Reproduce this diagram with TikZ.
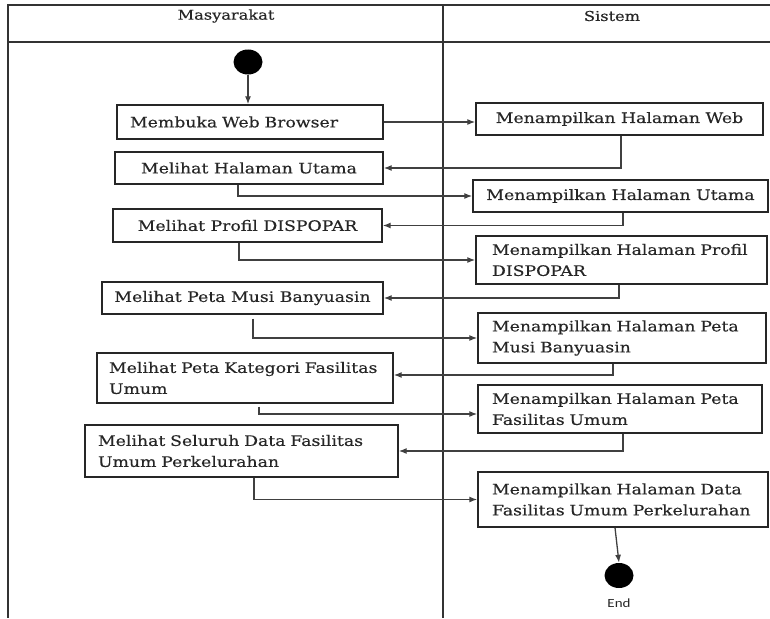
\documentclass[tikz,border=0pt]{standalone}
\usepackage{fontspec}
\setmainfont[FakeStretch=1.2,FakeBold=0.4]{DejaVu Serif}
\newfontfamily\endfont[FakeStretch=1.2]{Carlito}
\usetikzlibrary{arrows.meta,calc,shapes.geometric}
\begin{document}
\begin{tikzpicture}[x=1pt,y=-1pt,
  frame/.style={draw=black!80, line width=1.5pt},
  hdr/.style={font=\fontsize{13.5}{16}\selectfont, text=black!85, inner sep=0pt},
  actbox/.style={draw=black!85, line width=1.4pt, rectangle, inner sep=0pt,
    font=\fontsize{14.4}{21}\selectfont, text=black!85},
  flow/.style={draw=black!75, line width=1.3pt, -{Latex[length=8pt,width=6pt]}},
  dot/.style={ellipse, fill=black, minimum width=29pt, minimum height=25pt, inner sep=0pt},
]
\useasboundingbox (0,0) rectangle (770,618);
% swimlane frame
\draw[frame] (770,5) -- (8,5) -- (8,618);
\draw[frame] (8,42) -- (770,42);
\draw[frame] (443,5) -- (443,618);
\node[hdr] (h1) at (226,16) {Masyarakat};
\node[hdr] (h2) at (612,16) {Sistem};

% start / end
\node[dot] (start) at (248,62) {};
\node[dot] (endc) at (619,575.5) {};
\node[font=\endfont\fontsize{12.5}{14}\selectfont, text=black!85, inner sep=0pt] (endl) at (619,603) {End};

% Masyarakat activities
\node[actbox, minimum width=266pt, minimum height=34pt, text width=240pt, align=left] (a1) at (250,122) {\mbox{Membuka Web Browser}};
\node[actbox, minimum width=268pt, minimum height=32pt] (a2) at (249,168) {Melihat Halaman Utama};
\node[actbox, minimum width=269pt, minimum height=33pt] (a3) at (247.5,225.5) {Melihat Profil DISPOPAR};
\node[actbox, minimum width=281pt, minimum height=32pt] (a4) at (242.5,298) {Melihat Peta Musi Banyuasin};
\node[actbox, minimum width=296pt, minimum height=50pt, text width=272pt, align=left] (a5) at (245,378) {\mbox{Melihat Peta Kategori Fasilitas}\\\mbox{Umum}};
\node[actbox, minimum width=313pt, minimum height=52pt, text width=287pt, align=left] (a6) at (241.5,451) {\mbox{Melihat Seluruh Data Fasilitas}\\\mbox{Umum Perkelurahan}};

% Sistem activities
\node[actbox, minimum width=287pt, minimum height=32pt] (s1) at (619.5,119) {Menampilkan Halaman Web};
\node[actbox, minimum width=295pt, minimum height=32pt] (s2) at (620.5,196) {Menampilkan Halaman Utama};
\node[actbox, minimum width=291pt, minimum height=48pt, text width=259pt, align=left] (s3) at (621.5,260) {\mbox{Menampilkan Halaman Profil}\\\mbox{DISPOPAR}};
\node[actbox, minimum width=288pt, minimum height=50pt, text width=260pt, align=left] (s4) at (622,338) {\mbox{Menampilkan Halaman Peta}\\\mbox{Musi Banyuasin}};
\node[actbox, minimum width=284pt, minimum height=48pt, text width=256pt, align=left] (s5) at (620,409) {\mbox{Menampilkan Halaman Peta}\\\mbox{Fasilitas Umum}};
\node[actbox, minimum width=290pt, minimum height=55pt, text width=262pt, align=left] (s6) at (623,499.5) {\mbox{Menampilkan Halaman Data}\\\mbox{Fasilitas Umum Perkelurahan}};

% connectors
\draw[flow] (start.south) -- (start.south |- a1.north);
\draw[flow] (a1.east) -- (a1.east -| s1.west);
\draw[flow] ([xshift=1.5pt]s1.south) |- (a2.east);
\draw[flow] ([xshift=-11pt]a2.south) |- (s2.west);
\draw[flow] ([xshift=2.5pt]s2.south) |- (a3.east);
\draw[flow] ([xshift=-8.5pt]a3.south) |- (s3.west);
\draw[flow] ([xshift=-2.5pt]s3.south) |- (a4.east);
\draw[flow] ([xshift=10.5pt,yshift=-4pt]a4.south) |- (s4.west);
\draw[flow] ([xshift=-9pt]s4.south) |- ([yshift=3pt]a5.east);
\draw[flow] ([xshift=14pt,yshift=-3pt]a5.south) |- ([yshift=-5pt]s5.west);
\draw[flow] ([xshift=3pt]s5.south) |- (a6.east);
\draw[flow] ([xshift=12.5pt]a6.south) |- (s6.west);
\draw[flow] ([xshift=-8pt]s6.south) -- (endc.north);
\end{tikzpicture}
\end{document}
